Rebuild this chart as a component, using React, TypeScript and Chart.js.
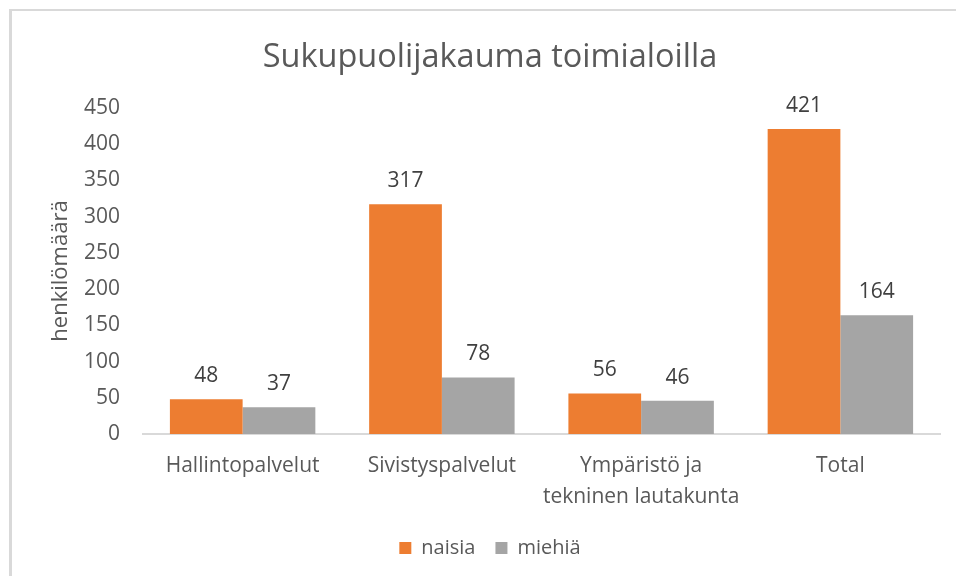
import React, { useEffect, useRef } from "react";
import { Chart, registerables } from "chart.js";

Chart.register(...registerables);

const categories: (string | string[])[] = [
  "Hallintopalvelut",
  "Sivistyspalvelut",
  ["Ympäristö ja", "tekninen lautakunta"],
  "Total",
];
const naisia = [48, 317, 56, 421];
const miehia = [37, 78, 46, 164];
const seriesNames = ["naisia", "miehiä"];
const titleText = "Sukupuolijakauma toimialoilla";
const yTitle = "henkilömäärä";

const FONT = "'Open Sans', 'Noto Sans', sans-serif";

const labelPlugin = {
  id: "barLabels",
  afterDatasetsDraw(chart: any) {
    const ctx = chart.ctx;
    ctx.save();
    ctx.font = `21px ${FONT}`;
    ctx.fillStyle = "#404040";
    ctx.textAlign = "center";
    ctx.textBaseline = "alphabetic";
    chart.data.datasets.forEach((ds: any, i: number) => {
      const meta = chart.getDatasetMeta(i);
      meta.data.forEach((bar: any, j: number) => {
        ctx.fillText(String(ds.data[j]), bar.x, bar.y - 17);
      });
    });
    ctx.restore();
  },
};

export default function App() {
  const ref = useRef<HTMLCanvasElement>(null);
  useEffect(() => {
    document.body.style.overflow = "hidden";
    const chart = new Chart(ref.current!, {
      type: "bar",
      data: {
        labels: categories,
        datasets: [
          { label: seriesNames[0], data: naisia, backgroundColor: "#ED7D31", categoryPercentage: 0.73, barPercentage: 1 },
          { label: seriesNames[1], data: miehia, backgroundColor: "#A5A5A5", categoryPercentage: 0.73, barPercentage: 1 },
        ],
      },
      options: {
        animation: false,
        responsive: false,
        layout: { padding: { left: 28, right: 28, top: 0, bottom: 17 } },
        plugins: {
          title: {
            display: true,
            text: titleText,
            color: "#595959",
            font: { family: FONT, size: 32.5, weight: "normal", lineHeight: 1.2 },
            padding: { top: 27.5, bottom: 30.5 },
          },
          legend: {
            position: "bottom",
            labels: {
              color: "#595959",
              font: { family: FONT, size: 20, lineHeight: 1.2 },
              boxWidth: 12,
              boxHeight: 12,
              padding: 20,
            },
          },
          tooltip: { enabled: false },
        },
        scales: {
          y: {
            min: 0,
            max: 450,
            afterFit: (s: any) => {
              s.width = 103;
            },
            ticks: { stepSize: 50, color: "#595959", font: { family: FONT, size: 21 }, padding: 23 },
            grid: { display: false, drawTicks: false },
            border: { display: false },
            title: {
              display: true,
              text: yTitle,
              color: "#595959",
              font: { family: FONT, size: 22, lineHeight: 1.2 },
              padding: { top: 8, bottom: 0 },
            },
          },
          x: {
            afterFit: (s: any) => {
              s.height = 84;
            },
            ticks: {
              color: "#595959",
              font: { family: FONT, size: 21, lineHeight: 1.5 },
              padding: 16,
              maxRotation: 0,
              minRotation: 0,
              autoSkip: false,
            },
            grid: { display: false, drawTicks: false },
            border: { display: true, color: "#d9d9d9", width: 2 },
          },
        },
      },
      plugins: [labelPlugin],
    });
    return () => chart.destroy();
  }, []);
  return (
    <div
      style={{
        position: "absolute",
        top: 9,
        left: 9,
        borderTop: "2px solid #d9d9d9",
        borderLeft: "3px solid #d9d9d9",
        width: 956,
        height: 576,
        background: "#fff",
        overflow: "hidden",
      }}
    >
      <canvas ref={ref} width={956} height={574} style={{ display: "block" }} />
    </div>
  );
}
